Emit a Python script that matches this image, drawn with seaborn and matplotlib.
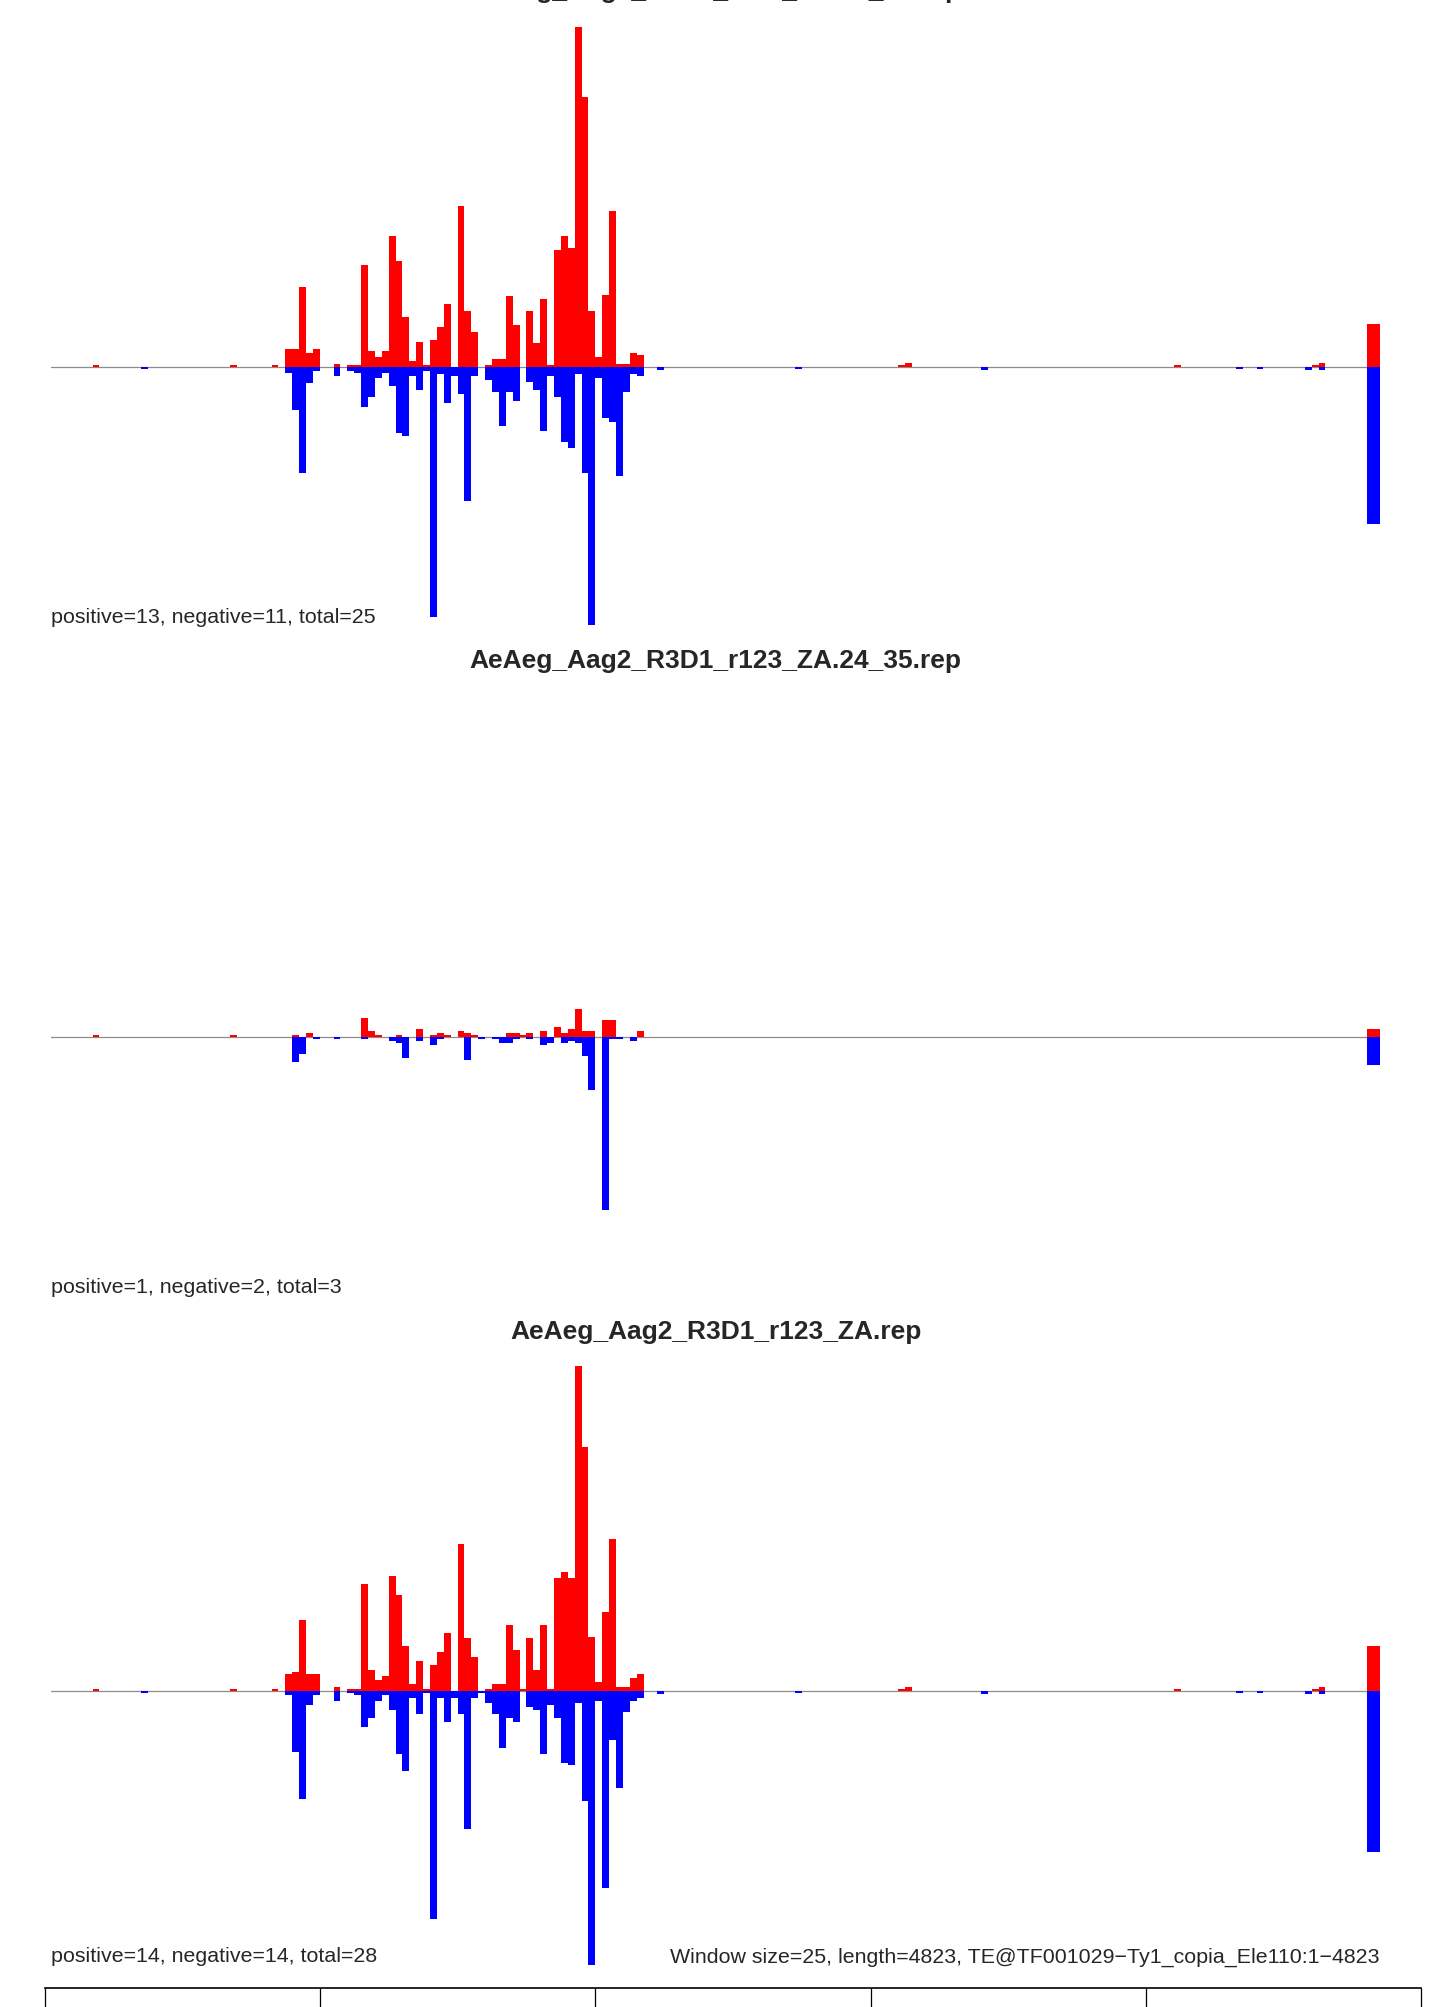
import numpy as np
import pandas as pd
import matplotlib
matplotlib.use('Agg')
import matplotlib.pyplot as plt
import seaborn as sns

# window index (25 bp windows) that carry a bar in at least one library
WIN = 25
LENGTH = 4823
windows = [6, 13, 26, 32,
           34, 35, 36, 37, 38, 39, 40, 41, 42, 43, 44, 45, 46, 47, 48, 49,
           50, 51, 52, 53, 54, 55, 56, 57, 58, 59, 60, 61, 62, 63, 64, 65,
           66, 67, 68, 69, 70, 71, 72, 73, 74, 75, 76, 77, 78, 79, 80, 81,
           82, 83, 84, 85,
           88, 108, 123, 124, 135, 163, 172, 175, 182, 183, 184, 191, 192]

titles = ['AeAeg_Aag2_R3D1_r123_ZA.18_23.rep',
          'AeAeg_Aag2_R3D1_r123_ZA.24_35.rep',
          'AeAeg_Aag2_R3D1_r123_ZA.rep']
counts = ['positive=13, negative=11, total=25',
          'positive=1, negative=2, total=3',
          'positive=14, negative=14, total=28']
footer = 'Window size=25, length=4823, TE@TF001029\u2212Ty1_copia_Ele110:1\u22124823'

# sense (red) and antisense (blue) coverage, scaled
pos1 = [1.8, 0, 1.8, 1.8,
        18.3, 18.3, 80.3, 14.4, 18.3, 0, 0, 3.1, 0, 1.8, 1.8, 102.5, 16.4, 10.1, 16.4, 130.6,
        106.4, 50.3, 6.2, 25.3, 1.8, 27.3, 40.2, 63.5, 0, 160.6, 55.8, 35.5, 0, 1.6, 8.2, 8.2,
        70.6, 42.5, 0, 55.8, 23.8, 68.2, 1.6, 117.3, 130.6, 119.3, 340, 269.8, 55.8, 10.1, 72.5, 155.6,
        3.1, 3.1, 14.4, 12.5,
        0, 0, 1.8, 3.7, 0, 1.8, 0, 0, 0, 1.8, 3.7, 42.7, 42.7]
neg1 = [0, 1.8, 0, 0,
        5.5, 42.9, 106, 15.6, 3.5, 0, 0, 9.4, 0, 3.5, 5.5, 39.8, 30.4, 11.3, 5.5, 18.7,
        65.5, 69.4, 9.4, 22.6, 3.5, 250, 7.4, 35.9, 9.4, 26.5, 133.7, 9.4, 0, 13.3, 24.6, 58.5,
        24.6, 33.5, 0, 15.2, 22.6, 63.5, 9.4, 30.4, 75.2, 80.7, 7.4, 105.7, 258.1, 11.3, 50.7, 54.6,
        108.8, 24.6, 7.4, 9.4,
        3, 1.8, 0, 0, 3, 0, 1.8, 1.8, 3, 0, 3, 157, 157]

pos2 = [1.8, 0, 1.8, 0,
        0, 2.3, 0, 4.3, 0, 0, 0, 0, 0, 0, 0, 19.3, 6.3, 2.3, 0, 0,
        2.3, 0, 0, 8.3, 0, 2.3, 4.3, 2.3, 0, 6.3, 4.3, 2.3, 0, 0, 0, 0,
        4.3, 4.3, 2.3, 4.3, 0, 6.3, 0, 10.3, 4.3, 8.3, 28.3, 6.3, 6.3, 0, 17.3, 17.3,
        0, 0, 0, 6.3,
        0, 0, 0, 0, 0, 0, 0, 0, 0, 0, 0, 7.7, 7.7]
neg2 = [0, 0, 0, 0,
        0, 25.3, 17.3, 0, 2.3, 0, 0, 2.3, 0, 0, 0, 2.3, 0, 0, 0, 4.3,
        6.3, 21.3, 0, 4.3, 0, 8.3, 2.3, 0, 0, 0, 23.3, 0, 2.3, 0, 2.3, 6.3,
        6.3, 2.3, 0, 2.3, 0, 8.3, 6.3, 0, 6.3, 4.3, 6.3, 19.3, 53.3, 0, 173.3, 2.3,
        2.3, 0, 4.3, 0,
        0, 0, 0, 0, 0, 0, 0, 0, 0, 0, 0, 28, 28]

pos3 = [1.9, 0, 1.9, 1.9,
        17.2, 19.1, 71.3, 17.2, 17.2, 0, 0, 3.9, 0, 1.9, 1.9, 107.2, 21.1, 10.9, 15.2, 115.4,
        96.3, 45.2, 6.6, 30, 1.9, 26.1, 39.4, 58.1, 0, 147.4, 53, 34.3, 0, 1.9, 7, 7,
        66.3, 41.3, 1.9, 53, 21.1, 66.3, 1.9, 113.5, 119.3, 113.5, 324.8, 243.7, 54.2, 9, 79.1, 152.4,
        3.9, 3.9, 13.3, 17.2,
        0, 0, 1.9, 3.9, 0, 1.9, 0, 0, 0, 1.9, 3.9, 45, 45]
neg3 = [0, 1.9, 0, 0,
        3.5, 60.8, 107.6, 13.6, 3.5, 0, 0, 9.7, 0, 1.6, 3.5, 35.5, 26.5, 9.7, 3.5, 18.7,
        62.8, 79.5, 7.4, 22.6, 1.6, 228, 7.4, 30.8, 7.4, 22.6, 138, 7.4, 1.6, 11.7, 22.6, 56.5,
        26.5, 30.8, 0, 15.6, 18.7, 62.8, 13.6, 26.5, 71.7, 73.7, 11.7, 109.9, 273.7, 9.7, 196.5, 48.7,
        96.7, 20.7, 9.7, 7.4,
        2.6, 1.9, 0, 0, 2.6, 0, 1.9, 1.9, 2.6, 0, 2.6, 161, 161]

sns.set_style('white')
plt.rcParams['font.family'] = ['Liberation Sans', 'DejaVu Sans']

W, H = 1431, 2007
fig = plt.figure(figsize=(W / 100, H / 100), dpi=100)

mid = np.array(windows) * WIN + WIN / 2
panels = [(pos1, neg1), (pos2, neg2), (pos3, neg3)]
# panel 2 shares the y scale of panel 1
ylims = [(-max(neg1), max(pos1)), (-max(neg1), max(pos1)), (-max(neg3), max(pos3))]
baselines = [367, 1037, 1691]   # pixel rows of the zero line
title_rows = [-9, 661, 1332]    # first title sits mostly above the picture edge

x0, x1 = 51.2, 1380
for k, (pos, neg) in enumerate(panels):
    lo, hi = ylims[k]
    top = baselines[k] - hi
    bot = baselines[k] - lo
    ax = fig.add_axes([x0 / W, 1 - bot / H, (x1 - x0) / W, (bot - top) / H])
    df = pd.DataFrame({'mid': mid, 'pos': pos, 'neg': -np.array(neg)})
    sns.barplot(data=df, x='mid', y='pos', native_scale=True, orient='x', color='#FF0000',
                saturation=1, width=1, linewidth=0, errorbar=None, ax=ax)
    sns.barplot(data=df, x='mid', y='neg', native_scale=True, orient='x', color='#0000FF',
                saturation=1, width=1, linewidth=0, errorbar=None, ax=ax)
    ax.axhline(0, color='#8c8c8c', lw=0.9, zorder=0.5)
    ax.set_xlim(0, LENGTH)
    ax.set_ylim(lo, hi)
    ax.axis('off')
    fig.text((x0 + x1) / 2 / W, 1 - title_rows[k] / H, titles[k], ha='center', va='center',
             fontsize=19, fontweight='bold')
    fig.text(x0 / W, 1 - (bot - 8) / H, counts[k], ha='left', va='center', fontsize=15.4)

fig.text(x1 / W, 1 - 1957 / H, footer, ha='right', va='center', fontsize=15.4)

# position axis along the bottom edge
axb = fig.add_axes([45 / W, 1 - 1988 / H, (1421 - 45) / W, 0.0005])
axb.patch.set_visible(False)
for s in ['top', 'left', 'right']:
    axb.spines[s].set_visible(False)
axb.spines['bottom'].set_linewidth(1.2)
axb.spines['bottom'].set_color('black')
axb.set_xlim(0, 5000)
axb.set_xticks([0, 1000, 2000, 3000, 4000, 5000])
axb.set_xticklabels([])
axb.set_yticks([])
axb.tick_params(axis='x', direction='out', length=20, width=0.9, color='black', bottom=True)

fig.savefig('out.png', dpi=100)
